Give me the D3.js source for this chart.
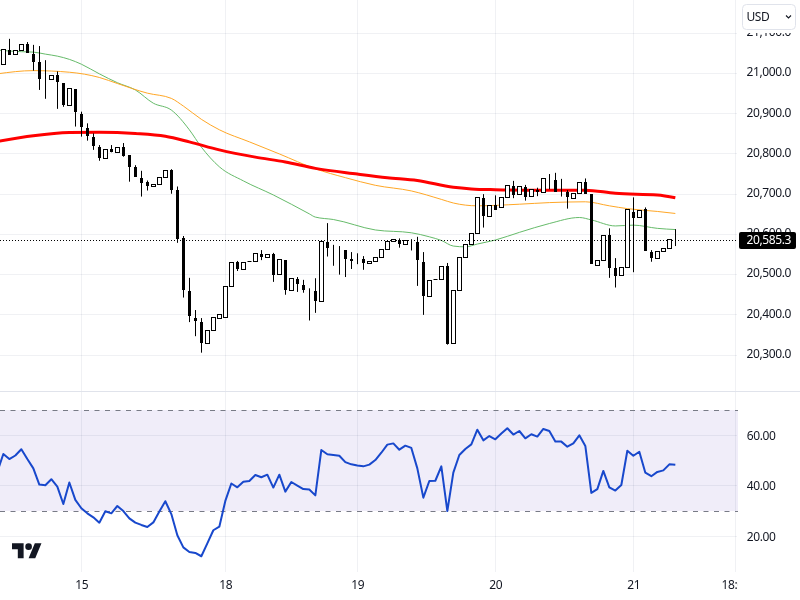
<!DOCTYPE html>
<html><head><meta charset="utf-8">
<script src="https://cdnjs.cloudflare.com/ajax/libs/d3/7.8.5/d3.min.js"></script>
<style>html,body{margin:0;padding:0;background:#fff}svg{display:block}text{font-family:"Noto Sans",sans-serif;fill:#131722}</style>
</head><body><div id="chart"></div>
<script>
const opens=[21023,21056,21048,21057,21071,21048,21026,21009,20984,20994,
20974,20920,20961,20899,20864,20841,20816,20789,20810,20804,
20815,20795,20765,20739,20730,20720,20724,20742,20758,20708,
20589,20459,20392,20382,20329,20362,20392,20394,20471,20529,
20513,20532,20533,20550,20543,20549,20501,20536,20461,20489,
20472,20458,20457,20434,20581,20563,20563,20561,20538,20536,
20538,20528,20533,20542,20563,20583,20585,20575,20584,20579,
20531,20446,20488,20487,20519,20329,20461,20543,20575,20603,
20690,20645,20672,20667,20692,20720,20700,20717,20695,20710,
20705,20737,20733,20709,20703,20690,20702,20728,20700,20523,
20536,20596,20516,20498,20518,20655,20642,20661,20556,20541,
20558,20566,20586];
const closes=[21060,21048,21057,21072,21051,21029,20987,21008,20995,20980,
20922,20963,20905,20869,20846,20822,20791,20811,20805,20816,
20797,20768,20743,20730,20721,20724,20742,20759,20712,20589,
20463,20398,20385,20331,20362,20394,20401,20471,20531,20514,
20531,20533,20553,20544,20550,20500,20538,20462,20491,20477,
20462,20457,20435,20583,20567,20562,20562,20541,20535,20535,
20530,20533,20542,20562,20583,20587,20577,20584,20583,20537,
20449,20486,20488,20521,20329,20461,20543,20575,20603,20692,
20647,20672,20661,20692,20722,20700,20719,20695,20712,20706,
20739,20736,20706,20708,20693,20702,20729,20702,20527,20536,
20598,20517,20499,20518,20662,20641,20660,20560,20542,20558,
20565,20587,20585];
const highs=[21060,21086,21057,21072,21078,21071,21068,21033,20995,21005,
20974,20963,20961,20905,20876,20851,20822,20811,20822,20816,
20827,20795,20772,20758,20734,20724,20742,20759,20762,20719,
20596,20492,20412,20392,20362,20394,20401,20471,20531,20534,
20531,20533,20553,20561,20550,20554,20538,20536,20491,20494,
20487,20466,20491,20583,20628,20574,20571,20561,20556,20553,
20546,20533,20542,20562,20583,20587,20590,20584,20588,20594,
20556,20486,20488,20521,20529,20461,20543,20575,20603,20692,
20700,20672,20697,20692,20722,20733,20719,20723,20712,20716,
20739,20750,20753,20738,20710,20702,20729,20739,20700,20536,
20598,20615,20541,20518,20662,20692,20660,20667,20561,20558,
20565,20587,20613];
const lows=[21023,21048,21048,21057,21051,21007,20959,20937,20984,20912,
20917,20920,20868,20843,20833,20810,20783,20789,20804,20804,
20793,20731,20743,20694,20709,20720,20724,20742,20701,20579,
20443,20382,20347,20306,20329,20362,20392,20394,20471,20509,
20513,20532,20533,20536,20543,20482,20501,20450,20461,20457,
20455,20386,20405,20434,20545,20522,20500,20494,20514,20526,
20512,20528,20533,20542,20563,20583,20567,20575,20560,20472,
20400,20446,20488,20487,20326,20329,20461,20543,20575,20603,
20617,20645,20661,20667,20692,20690,20700,20684,20695,20695,
20705,20712,20706,20694,20664,20690,20702,20702,20527,20523,
20536,20492,20468,20498,20518,20506,20642,20559,20532,20541,
20558,20566,20571];
const greenBars=[-1,3,5,7,9,11,13,16,19,22,25,28,31,33,36,40,45,51,52,55,62,68,71,73,75,77,79,82,86,91,96,98,102,105,109,112];
const greenVals=[21058,21054,21053,21048,21043,21035,21023,20999,20977,20959,20926,20909,20860,20817,20768,20733,20698,20651,20643,20637,20611,20604,20594,20585,20571,20569,20576,20586,20605,20627,20642,20636,20621,20623,20615,20612];
const orangeBars=[-1,5,11,16,19,24,28,30,33,36,41,46,52,57,62,68,73,75,79,86,91,97,101,104,109,112];
const orangeVals=[20999,21007,21003,20990,20975,20951,20938,20919,20886,20860,20830,20800,20763,20741,20722,20708,20687,20678,20671,20675,20679,20681,20671,20664,20657,20652];
const redBars=[-1,5,11,16,22,27,31,36,42,47,52,59,64,69,75,78,82,87,97,102,109,112];
const redVals=[20831,20845,20853,20854,20851,20844,20830,20810,20792,20780,20764,20750,20741,20734,20717,20713,20711,20710,20710,20702,20698,20691];
const rsiFirstBar=-1;
const rsi=[45.6,52.6,50.6,52,54.5,50.6,46.9,40.5,40.2,42.6,39.7,
32.8,41.3,34.4,31.1,29.1,27.5,25.4,29.9,29.1,32,
30,27.1,25.4,24.5,23.7,25.5,29.8,33.9,28.8,20.4,
15.6,13.8,13.4,12.1,17.2,22.4,23.8,34,40.9,39.4,
41.6,41.9,44.3,43.4,44.4,39.3,44.4,37.7,41.5,40.1,
38.7,38.5,36.2,54.2,52.5,52.2,51.9,49.4,48.5,48,
47.7,48.4,50.2,53.1,56.3,56.8,54.3,55.9,55,46.9,
35.3,41.9,42,47.7,30,45.2,52.2,54.6,56.4,62.2,
58,59.7,58.4,60.7,62.8,60.3,61.7,58.8,60.4,59.5,
62.5,61.7,57.5,57.5,55.5,56.8,60,55.8,37.2,38.7,
45.9,39.4,38.1,40.3,53.9,51.9,53.5,45.2,43.8,45.5,
46.1,48.5,48.3];
const priceTicks=[20300,20400,20500,20600,20700,20800,20900,21000,21100];
const rsiTicks=[20,40,60];
const rsiBandLimits=[30,70];
const timeTickBars=[13,37,59,82,105,122];
const timeTickLabels=["15","18","19","20","21","18:00"];
const lastPrice=20585.3;
const currency="USD";

const W=800,H=600,plotR=737,axisB=572,divY=391;
const FONT='"Noto Sans",sans-serif',FS=12,LS="-0.4px";
const svg=d3.select("#chart").append("svg").attr("width",W).attr("height",H);
const x=d3.scaleLinear().domain([0,112]).range([3.33,675.33]);
const y=d3.scaleLinear().domain([20300,21100]).range([355.1,33.2]);
const yR=d3.scaleLinear().domain([20,60]).range([536.3,435.3]);
const snap=v=>Math.floor(v)+0.5;
const GRID="#f0f1f4";

const defs=svg.append("defs");
defs.append("clipPath").attr("id","plot").append("rect").attr("x",0).attr("y",0).attr("width",plotR).attr("height",divY);
defs.append("clipPath").attr("id","taxis").append("rect").attr("x",0).attr("y",axisB).attr("width",plotR+0.5).attr("height",H-axisB);

// RSI band
svg.append("rect").attr("x",0).attr("width",plotR+1).attr("y",yR(rsiBandLimits[1])).attr("height",yR(rsiBandLimits[0])-yR(rsiBandLimits[1])).attr("fill","#f0edf9");

// grids
svg.append("g").selectAll("line").data(priceTicks).join("line")
 .attr("x1",0).attr("x2",plotR).attr("y1",d=>snap(y(d))).attr("y2",d=>snap(y(d))).attr("stroke",GRID);
svg.append("g").selectAll("line").data(rsiTicks).join("line")
 .attr("x1",0).attr("x2",plotR).attr("y1",d=>snap(yR(d))).attr("y2",d=>snap(yR(d))).attr("stroke",GRID).attr("style","mix-blend-mode:multiply");
svg.append("g").selectAll("line").data(timeTickBars).join("line")
 .attr("x1",d=>snap(x(d))).attr("x2",d=>snap(x(d))).attr("y1",0).attr("y2",axisB).attr("stroke",GRID).attr("style","mix-blend-mode:multiply");

// pane divider
svg.append("line").attr("x1",0).attr("x2",W).attr("y1",divY+.5).attr("y2",divY+.5).attr("stroke","#e0e3eb");

// RSI bounds
svg.append("g").selectAll("line").data(rsiBandLimits).join("line")
 .attr("x1",0).attr("x2",plotR+1).attr("y1",d=>snap(yR(d))).attr("y2",d=>snap(yR(d)))
 .attr("stroke","#787b86").attr("stroke-dasharray","5 5.5");

// moving averages
const plot=svg.append("g").attr("clip-path","url(#plot)");
const maLine=d3.line().x(d=>x(d[0])).y(d=>y(d[1])).curve(d3.curveMonotoneX);
[[greenBars,greenVals,"#66bb6a",1],[orangeBars,orangeVals,"#ffa726",1],[redBars,redVals,"#ff0000",3]].forEach(([b,v,c,w])=>{
 plot.append("path").attr("d",maLine(b.map((d,i)=>[d,v[i]]))).attr("fill","none").attr("stroke",c).attr("stroke-width",w);
});

// last price dotted line
plot.append("line").attr("x1",0).attr("x2",plotR).attr("y1",snap(y(lastPrice))).attr("y2",snap(y(lastPrice)))
 .attr("stroke","#000").attr("stroke-dasharray","1 2");

// candles
const idx=d3.range(opens.length);
const cg=plot.append("g").selectAll("g").data(idx).join("g");
cg.append("line").attr("x1",i=>snap(x(i))).attr("x2",i=>snap(x(i)))
 .attr("y1",i=>y(highs[i])).attr("y2",i=>y(lows[i])).attr("stroke","#000").attr("stroke-width",1);
cg.each(function(i){
 const up=closes[i]>=opens[i],top=snap(y(Math.max(opens[i],closes[i]))),bot=snap(y(Math.min(opens[i],closes[i]))),c=snap(x(i));
 const rawH=y(Math.min(opens[i],closes[i]))-y(Math.max(opens[i],closes[i]));
 const doji=rawH<1.2;
 if(doji && highs[i]-lows[i]>2){return;}
 if(doji){d3.select(this).append("rect").attr("x",c-2).attr("width",4).attr("y",top-.5).attr("height",1).attr("fill","#000");return;}
 if(up){
  d3.select(this).append("rect").attr("x",c-2).attr("width",4).attr("y",top).attr("height",Math.max(bot-top,1)).attr("fill","#fff").attr("stroke","#000").attr("stroke-width",1);
 }else{
  d3.select(this).append("rect").attr("x",c-1.5).attr("width",3).attr("y",top-.5).attr("height",Math.max(bot-top+1,1)).attr("fill","#000");
 }
});

// RSI
svg.append("path").attr("d",d3.line().x((d,i)=>x(i+rsiFirstBar)).y(d=>yR(d))(rsi)).attr("fill","none").attr("stroke","#1848cc").attr("stroke-width",2).attr("stroke-linejoin","round");

function styleText(sel){sel.attr("font-size",FS).style("font-family",FONT).style("fill","#131722").style("letter-spacing",LS);}

// price axis
const axP=svg.append("g").attr("transform","translate(791,-1.5)")
 .call(d3.axisLeft(y).tickValues(priceTicks).tickSize(0).tickPadding(0).tickFormat(d3.format(",.1f")));
axP.select(".domain").remove();
axP.selectAll("text").attr("x",0).call(styleText);

// RSI axis
const axR=svg.append("g").attr("transform","translate(775.5,0)")
 .call(d3.axisLeft(yR).tickValues(rsiTicks).tickSize(0).tickPadding(0).tickFormat(d3.format(".2f")));
axR.select(".domain").remove();
axR.selectAll("text").attr("x",0).call(styleText);

// time axis
const xT=d3.scaleOrdinal().domain(timeTickBars).range(timeTickLabels);
const axT=svg.append("g").attr("clip-path","url(#taxis)").append("g").attr("transform","translate(0,580.5)")
 .call(d3.axisBottom(x).tickValues(timeTickBars).tickSize(0).tickPadding(0).tickFormat(d=>xT(d)));
axT.select(".domain").remove();
axT.selectAll("text").attr("y",0).attr("dy","0.71em").call(styleText);

// last price label
svg.append("rect").attr("x",739).attr("y",232).attr("width",57).attr("height",17).attr("rx",2).attr("fill","#000");
svg.append("text").attr("x",791).attr("y",y(lastPrice)-.3).attr("dy","0.32em").attr("text-anchor","end").attr("font-size",FS).style("letter-spacing",LS).style("fill","#fff").text(d3.format(",.1f")(lastPrice));

// currency box with its mask
svg.append("rect").attr("x",738).attr("y",0).attr("width",62).attr("height",33).attr("fill","#fff");
svg.append("rect").attr("x",742.5).attr("y",4.5).attr("width",53).attr("height",25).attr("rx",4).attr("fill","#fff").attr("stroke","#e0e3eb");
svg.append("text").attr("x",746.5).attr("y",21).attr("font-size",FS).style("letter-spacing",LS).text(currency);
svg.append("path").attr("d","M786 15.5l2.5 2.5 2.5-2.5").attr("fill","none").attr("stroke","#131722").attr("stroke-width",1.1);

// logo
svg.append("g").attr("transform","translate(12,540) scale(0.83)").attr("fill","#131722").call(g=>{
 g.append("path").attr("d","M14 22H7V11H0V4h14v18zM28 22h-8l7.5-18h8L28 22z");
 g.append("circle").attr("cx",20).attr("cy",8).attr("r",4);
});
</script></body></html>
